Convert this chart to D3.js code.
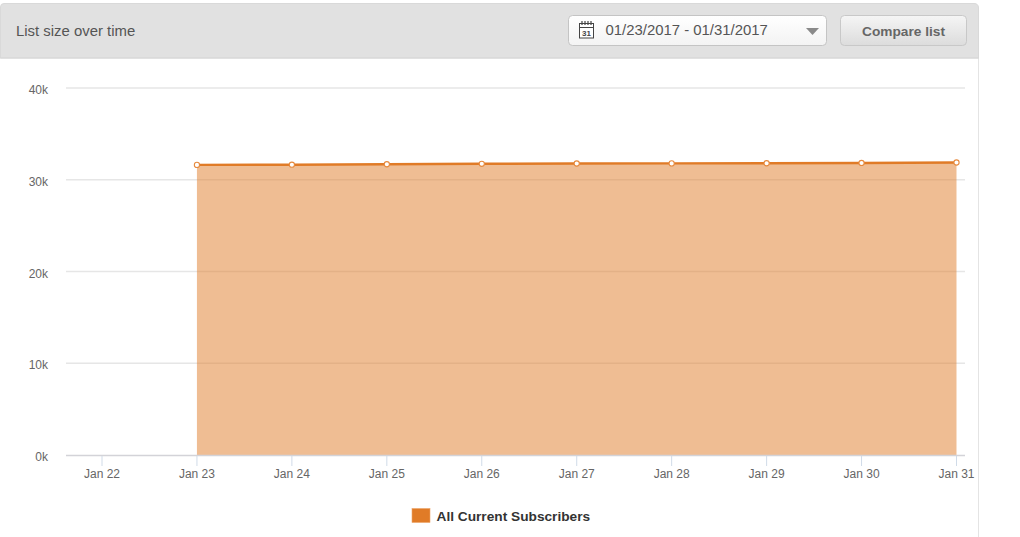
<!DOCTYPE html>
<html><head><meta charset="utf-8">
<script src="https://cdnjs.cloudflare.com/ajax/libs/d3/7.8.5/d3.min.js"></script>
<style>
html,body{margin:0;padding:0;background:#fff;overflow:hidden}
svg{display:block;font-family:"Liberation Sans",Arial,sans-serif}
</style></head><body>
<svg id="c" width="1020" height="537"></svg>
<script>
const days = ["2017-01-22","2017-01-23","2017-01-24","2017-01-25","2017-01-26","2017-01-27","2017-01-28","2017-01-29","2017-01-30","2017-01-31"];
const dataDays = days.slice(1);
const subscribers = [31620,31640,31690,31740,31770,31780,31800,31830,31880];
const yTicks = [0,10000,20000,30000,40000];
const seriesName = "All Current Subscribers";
const titleText = "List size over time";
const dateRange = "01/23/2017 - 01/31/2017";
const buttonText = "Compare list";
const lineColor = "#e07b27";

const svg = d3.select("#c");
const parse = d3.utcParse("%Y-%m-%d");
const x = d3.scaleUtc().domain([parse(days[0]),parse(days[9])]).range([102,956.5]);
const y = d3.scaleLinear().domain([0,40000]).range([455,88]);

const defs = svg.append("defs");
const g1 = defs.append("linearGradient").attr("id","btn").attr("x1",0).attr("x2",0).attr("y1",0).attr("y2",1);
g1.append("stop").attr("offset",0).attr("stop-color","#f5f5f5");
g1.append("stop").attr("offset",1).attr("stop-color","#dcdcdc");
const g2 = defs.append("linearGradient").attr("id","sel").attr("x1",0).attr("x2",0).attr("y1",0).attr("y2",1);
g2.append("stop").attr("offset",0).attr("stop-color","#ffffff");
g2.append("stop").attr("offset",1).attr("stop-color","#f3f3f3");

// panel
svg.append("line").attr("x1",978.5).attr("x2",978.5).attr("y1",10).attr("y2",537).attr("stroke","#e4e4e4");
svg.append("path").attr("d","M0.5,58 V7 Q0.5,3.5 4,3.5 H974 Q978.5,3.5 978.5,8 V58 Z").attr("fill","#e1e1e1").attr("stroke","#d9d9d9");
svg.append("line").attr("x1",0).attr("x2",979).attr("y1",58).attr("y2",58).attr("stroke","#d6d6d6");
svg.append("text").attr("x",16).attr("y",36).attr("font-size",14.9).attr("fill","#555").text(titleText);

// date selector
svg.append("rect").attr("x",568.5).attr("y",15.5).attr("width",258).attr("height",30).attr("rx",4).attr("fill","url(#sel)").attr("stroke","#c4c4c4");
const ic = svg.append("g").attr("transform","translate(579,20)").attr("fill","none").attr("stroke","#444");
ic.append("rect").attr("x",0.5).attr("y",3.5).attr("width",14).attr("height",14.5).attr("fill","#fff");
ic.append("line").attr("x1",0.5).attr("x2",14.5).attr("y1",7.5).attr("y2",7.5);
[3,6,9,12].forEach(d=>ic.append("line").attr("x1",d).attr("x2",d).attr("y1",1).attr("y2",5).attr("stroke-width",1.2));
svg.append("text").attr("x",586.5).attr("y",36).attr("text-anchor","middle").attr("font-size",8).attr("font-weight","bold").attr("fill","#444").text("31");
svg.append("text").attr("x",605.5).attr("y",35).attr("font-size",14.9).attr("fill","#555").text(dateRange);
svg.append("path").attr("d","M806,28 H819 L812.5,35 Z").attr("fill","#8a8a8a");

// button
svg.append("rect").attr("x",840.5).attr("y",15.5).attr("width",126).attr("height",30).attr("rx",4).attr("fill","url(#btn)").attr("stroke","#c8c8c8");
svg.append("text").attr("x",903.5).attr("y",36).attr("text-anchor","middle").attr("font-size",13.7).attr("font-weight","bold").attr("fill","#666").text(buttonText);

// grid
svg.append("g").selectAll("line").data(yTicks.filter(d=>d>0)).join("line")
  .attr("x1",66).attr("x2",965).attr("y1",d=>y(d)).attr("y2",d=>y(d))
  .attr("stroke","#e6e6e6").attr("stroke-width",1.4);

// y labels
svg.append("g").selectAll("text").data(yTicks).join("text")
  .attr("x",48).attr("y",d=>y(d)+6).attr("text-anchor","end")
  .attr("font-size",12).attr("fill","#666").text(d=>(d/1000)+"k");

// area & line
const pts = dataDays.map((d,i)=>({d:parse(d),v:subscribers[i]}));
svg.append("path").datum(pts)
  .attr("d",d3.area().x(p=>x(p.d)).y0(y(0)).y1(p=>y(p.v)))
  .attr("fill",lineColor).attr("fill-opacity",0.5);
svg.append("path").datum(pts)
  .attr("d",d3.line().x(p=>x(p.d)).y(p=>y(p.v)))
  .attr("fill","none").attr("stroke",lineColor).attr("stroke-width",2.4);

// x axis
svg.append("line").attr("x1",66).attr("x2",965).attr("y1",455.5).attr("y2",455.5).attr("stroke","#d3d3d8").attr("stroke-width",1.4);
const tk = svg.append("g").selectAll("g").data(days.map(parse)).join("g");
tk.append("line").attr("x1",d=>x(d)).attr("x2",d=>x(d)).attr("y1",456).attr("y2",466).attr("stroke","#d0dbe8");
tk.append("text").attr("x",d=>x(d)).attr("y",478).attr("text-anchor","middle")
  .attr("font-size",12).attr("fill","#666").text(d=>d3.utcFormat("%b %-d")(d));

// markers
svg.append("g").selectAll("circle").data(pts).join("circle")
  .attr("cx",p=>x(p.d)).attr("cy",p=>y(p.v)).attr("r",2.6)
  .attr("fill","#fff").attr("stroke","#e68a3e").attr("stroke-width",1.1);

// legend
svg.append("rect").attr("x",412).attr("y",508.5).attr("width",18).attr("height",14).attr("fill",lineColor).attr("stroke","#eda56a").attr("stroke-width",0.6);
svg.append("text").attr("x",436.5).attr("y",521).attr("font-size",13.7).attr("font-weight","bold").attr("fill","#333").text(seriesName);
</script>
</body></html>
